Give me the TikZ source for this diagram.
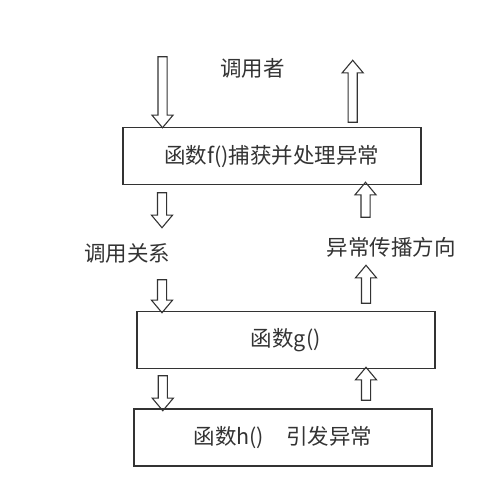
\documentclass[tikz,border=0pt]{standalone}
\usepackage{fontspec}
\setmainfont{Noto Sans CJK SC}
\usepackage{tikz}
\usetikzlibrary{shapes.arrows}
\definecolor{ink}{HTML}{333333}

\begin{document}
\begin{tikzpicture}[x=1pt,y=1pt,
  fn/.style={draw=ink,line width=1.6pt,minimum width=298pt,minimum height=57pt,inner sep=0pt,font=\fontsize{21.5}{25}\selectfont,text=ink},
  lbl/.style={font=\fontsize{21.5}{25}\selectfont,text=ink},
  blk/.style={single arrow,draw=ink,line width=1.1pt,inner sep=0pt,inner ysep=4pt,single arrow head extend=6pt,single arrow tip angle=80,minimum width=20pt},
  dn/.style={blk,rotate=-90,minimum height=#1},
  up/.style={blk,rotate=90,minimum height=#1}]
\useasboundingbox (0,0) rectangle (504,499);
\node[fn] (f) at (271.7,342.8) {函数f()捕获并处理异常};
\node[fn] (g) at (285.8,159.1) {函数g()};
\node[fn] (h) at (282.8,61.5) {函数h()\hspace*{22pt}引发异常};
\node[lbl] (caller) at (252.5,431) {调用者};
\node[lbl] (rel) at (127,246) {调用关系};
\node[lbl] (prop) at (391,252) {异常传播方向};
% call direction
\node[dn=71pt] (d1) at (162.5,409.5) {};
\node[dn=35pt] (d2) at (162,291.5) {};
\node[dn=33pt] (d3) at (162,205.5) {};
\node[dn=35pt] (d4) at (162.8,108.5) {};
% exception direction
\node[up=62pt] (u1) at (352.7,405) {};
\node[up=35pt] (u2) at (365.5,296.5) {};
\node[up=38pt] (u3) at (366,212) {};
\node[up=33pt] (u4) at (366,112.5) {};
\end{tikzpicture}
\end{document}
